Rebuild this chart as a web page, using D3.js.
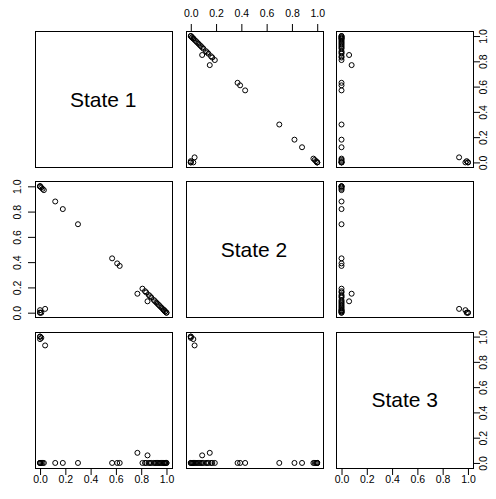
<!DOCTYPE html>
<html><head><meta charset="utf-8">
<script src="https://cdn.jsdelivr.net/npm/d3@7"></script>
<style>body{margin:0;background:#fff}svg{display:block}</style>
</head><body><svg id="c" width="496" height="499"></svg>
<script>
const varNames = ["State 1", "State 2", "State 3"];
const state1 = [1.00,1.00,0.99,0.99,0.98,0.98,0.97,0.96,0.95,0.94,0.93,0.92,0.91,0.90,0.88,0.87,0.86,0.84,0.83,0.81,0.85,0.77,
                0.63,0.61,0.57,0.30,0.18,0.12,0.03,0.02,0.01,0.00,0.00,0.00,0.04,0.00,0.01,0.00,0.00];
const state2 = [0.00,0.00,0.01,0.01,0.02,0.02,0.03,0.04,0.05,0.06,0.07,0.08,0.09,0.10,0.12,0.13,0.14,0.16,0.17,0.19,0.09,0.15,
                0.37,0.39,0.43,0.70,0.82,0.88,0.97,0.98,0.99,1.00,1.00,1.00,0.03,0.02,0.00,0.00,0.00];
const state3 = [0.00,0.00,0.00,0.00,0.00,0.00,0.00,0.00,0.00,0.00,0.00,0.00,0.00,0.00,0.00,0.00,0.00,0.00,0.00,0.00,0.06,0.08,
                0.00,0.00,0.00,0.00,0.00,0.00,0.00,0.00,0.00,0.00,0.00,0.00,0.93,0.98,0.99,1.00,1.00];
const tickValues = [0, 0.2, 0.4, 0.6, 0.8, 1.0];
const tickLabels = ["0.0", "0.2", "0.4", "0.6", "0.8", "1.0"];

(function () {
const series = [state1, state2, state3];
const svg = d3.select("#c");
const FONT = "'Liberation Sans', Arial, Helvetica, sans-serif";
const padL = 35, padT = 31, padR = 473, padB = 468;
const n = 3;
const gx = 14.2, gy = 13.8;
const w = (padR - padL - (n - 1) * gx) / n;
const h = (padB - padT - (n - 1) * gy) / n;
const lineOff = 14.4;

function styleAxis(g) {
  g.select(".domain").remove();
  g.selectAll(".tick line").attr("stroke", "#000").attr("stroke-width", 1);
  g.selectAll(".tick text").attr("fill", "#000").style("font-family", FONT).style("font-size", "10.5px");
}

for (let i = 0; i < n; i++) {
  for (let j = 0; j < n; j++) {
    const x0 = padL + j * (w + gx);
    const y0 = padT + i * (h + gy);
    const xs = d3.scaleLinear().domain([-0.04, 1.04]).range([x0, x0 + w]);
    const ys = d3.scaleLinear().domain([-0.04, 1.04]).range([y0 + h, y0]);
    const fmt = d => tickLabels[tickValues.indexOf(d)];

    if (i === j) {
      svg.append("text").attr("x", x0 + w / 2).attr("y", y0 + h / 2)
        .attr("text-anchor", "middle").attr("dominant-baseline", "central")
        .style("font-family", FONT).style("font-size", "21px").attr("fill", "#000")
        .text(varNames[i]);
    } else {
      const xv = series[j], yv = series[i];
      svg.append("g").selectAll("circle").data(d3.range(xv.length)).join("circle")
        .attr("cx", k => xs(xv[k])).attr("cy", k => ys(yv[k])).attr("r", 2.5)
        .attr("fill", "none").attr("stroke", "#000").attr("stroke-width", 1);
    }

    if (i === 0 && j % 2 === 1) {
      const g = svg.append("g").attr("transform", `translate(0,${y0})`)
        .call(d3.axisTop(xs).tickValues(tickValues).tickFormat(fmt).tickSize(7).tickSizeOuter(0));
      styleAxis(g);
      g.selectAll(".tick text").attr("y", -lineOff).attr("dy", null).attr("text-anchor", "middle");
    }
    if (i === n - 1 && j % 2 === 0) {
      const g = svg.append("g").attr("transform", `translate(0,${y0 + h})`)
        .call(d3.axisBottom(xs).tickValues(tickValues).tickFormat(fmt).tickSize(7).tickSizeOuter(0));
      styleAxis(g);
      g.selectAll(".tick text").attr("y", 15.3).attr("dy", null).attr("text-anchor", "middle");
    }
    if (j === 0 && i % 2 === 1) {
      const g = svg.append("g").attr("transform", `translate(${x0},0)`)
        .call(d3.axisLeft(ys).tickValues(tickValues).tickFormat(fmt).tickSize(7).tickSizeOuter(0));
      styleAxis(g);
      g.selectAll(".tick text").attr("x", null).attr("y", null).attr("dy", null)
        .attr("text-anchor", "middle").attr("transform", `translate(${-lineOff},0) rotate(-90)`);
    }
    if (j === n - 1 && i % 2 === 0) {
      const g = svg.append("g").attr("transform", `translate(${x0 + w},0)`)
        .call(d3.axisRight(ys).tickValues(tickValues).tickFormat(fmt).tickSize(7).tickSizeOuter(0));
      styleAxis(g);
      g.selectAll(".tick text").attr("x", null).attr("y", null).attr("dy", null)
        .attr("text-anchor", "middle").attr("transform", `translate(${lineOff},0) rotate(-90)`);
    }

    svg.append("rect").attr("x", Math.round(x0) + 0.5).attr("y", Math.round(y0) + 0.5)
      .attr("width", Math.round(w)).attr("height", Math.round(h))
      .attr("fill", "none").attr("stroke", "#000").attr("stroke-width", 1);
  }
}
})();
</script>
</body></html>
